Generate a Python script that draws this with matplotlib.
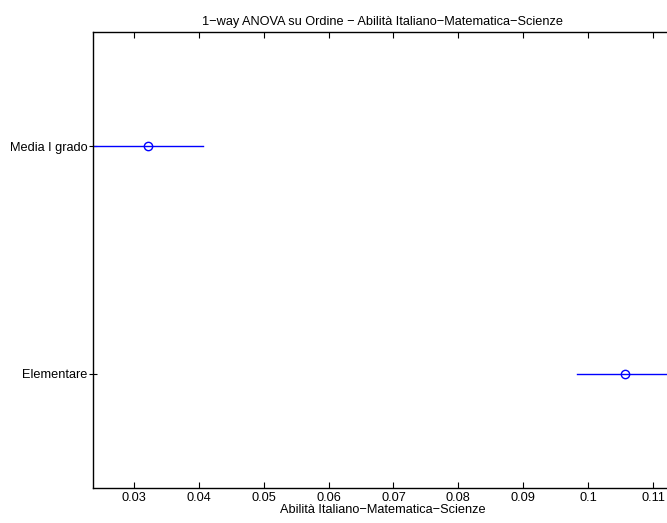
import matplotlib.pyplot as plt

# gruppi e intervalli di confronto (multcompare)
groups = ['Elementare', 'Media I grado']
means = [0.10569, 0.03215]
half_widths = [0.00739, 0.00846]
xticks = [0.03, 0.04, 0.05, 0.06, 0.07, 0.08, 0.09, 0.1, 0.11]
xtick_labels = ['0.03', '0.04', '0.05', '0.06', '0.07', '0.08', '0.09', '0.1', '0.11']

plt.rcParams['font.family'] = ['Liberation Sans', 'DejaVu Sans']
plt.rcParams['font.size'] = 9.2

fig = plt.figure(figsize=(6.67, 5.23), dpi=100)
W, H = 667, 523
ax = fig.add_axes([93 / W, (H - 488) / H, (673 - 93) / W, (488 - 32) / H])

ypos = list(range(1, len(groups) + 1))
for y, m, h in zip(ypos, means, half_widths):
    ax.plot([m - h, m + h], [y, y], color='blue', lw=1)
    ax.plot(m, y, 'o', mfc='none', mec='blue', ms=6, mew=1)

lows = [m - h for m, h in zip(means, half_widths)]
highs = [m + h for m, h in zip(means, half_widths)]
ax.set_xlim(min(lows), max(highs))
ax.set_ylim(0.5, len(groups) + 0.5)
ax.set_yticks(ypos)
ax.set_yticklabels(groups)
ax.set_xticks(xticks)
ax.set_xticklabels(xtick_labels)

ax.tick_params(direction='in', length=4, width=0.8, top=True, right=True)
ax.tick_params(axis='x', pad=3)
ax.tick_params(axis='y', direction='inout', length=6, pad=1)
for s in ax.spines.values():
    s.set_linewidth(1)

ax.set_title('1−way ANOVA su Ordine − Abilità Italiano−Matematica−Scienze', fontsize=9.2, pad=5)
ax.set_xlabel('Abilità Italiano−Matematica−Scienze', fontsize=9.2, labelpad=0)

fig.savefig('out.png', dpi=100)
